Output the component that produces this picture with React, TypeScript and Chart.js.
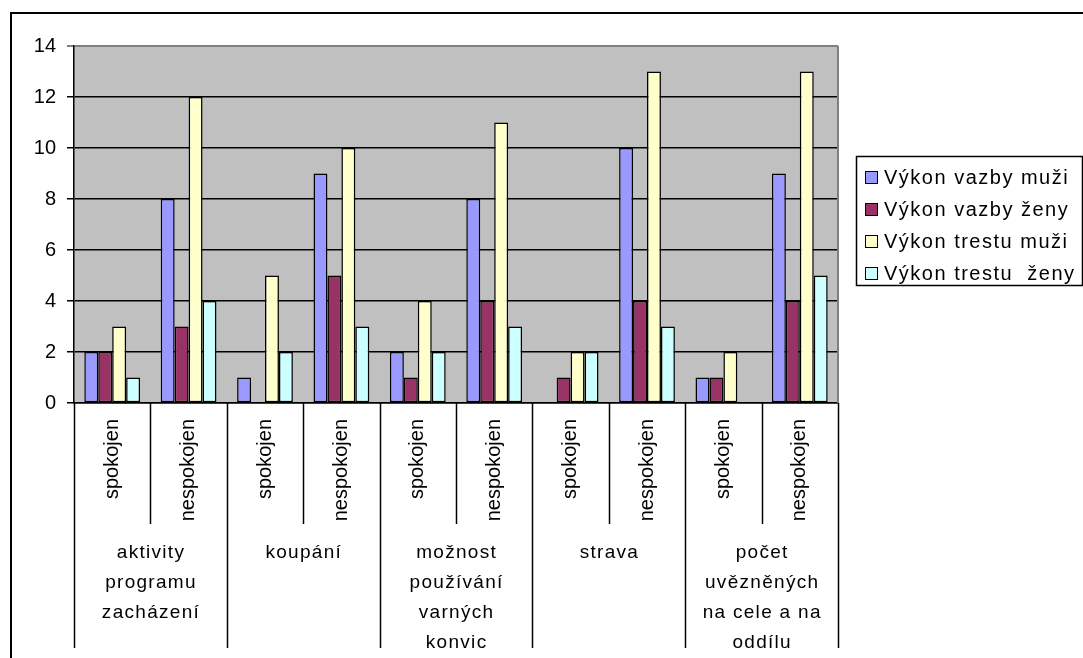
import React, { useEffect, useRef } from "react";
import { Chart, registerables } from "chart.js";

Chart.register(...registerables);

const categories = [
  "spokojen", "nespokojen",
  "spokojen", "nespokojen",
  "spokojen", "nespokojen",
  "spokojen", "nespokojen",
  "spokojen", "nespokojen",
];

const groupLabels: string[][] = [
  ["aktivity", "programu", "zacházení"],
  ["koupání"],
  ["možnost", "používání", "varných", "konvic"],
  ["strava"],
  ["počet", "uvězněných", "na cele a na", "oddílu"],
];

const seriesNames = ["Výkon vazby muži", "Výkon vazby ženy", "Výkon trestu muži", "Výkon trestu  ženy"];
const vazbaMuzi = [2, 8, 1, 9, 2, 8, 0, 10, 1, 9];
const vazbaZeny = [2, 3, 0, 5, 1, 4, 1, 4, 1, 4];
const trestMuzi = [3, 12, 5, 10, 4, 11, 2, 13, 2, 13];
const trestZeny = [1, 4, 2, 3, 2, 3, 2, 3, 0, 5];
const seriesColors = ["#9999FF", "#993366", "#FFFFCC", "#CCFFFF"];

const FONT = "'Liberation Sans', Arial, sans-serif";

const framePlugin = {
  id: "excelFrame",
  beforeDraw(chart: any) {
    const { ctx, chartArea } = chart;
    ctx.save();
    ctx.fillStyle = "#ffffff";
    ctx.fillRect(0, 0, chart.width, chart.height);
    ctx.fillStyle = "#C0C0C0";
    ctx.fillRect(chartArea.left, chartArea.top, chartArea.right - chartArea.left, chartArea.bottom - chartArea.top);
    ctx.strokeStyle = "#000";
    ctx.lineWidth = 2;
    ctx.strokeRect(11, 13, chart.width + 20, chart.height + 20);
    ctx.restore();
  },
  afterDraw(chart: any) {
    const { ctx, chartArea } = chart;
    const xs = chart.scales.x;
    ctx.save();
    // right border of plot area
    ctx.strokeStyle = "#808080";
    ctx.lineWidth = 2;
    ctx.beginPath();
    ctx.moveTo(chartArea.right, chartArea.top);
    ctx.lineTo(chartArea.right, chartArea.bottom);
    ctx.stroke();

    // category dividers
    const n = categories.length;
    ctx.strokeStyle = "#000";
    ctx.lineWidth = 1.5;
    for (let i = 0; i <= n; i++) {
      const x = i === 0 ? chartArea.left : i === n ? chartArea.right : (xs.getPixelForValue(i - 1) + xs.getPixelForValue(i)) / 2;
      const yEnd = i % 2 === 0 ? chartArea.bottom + 245 : chartArea.bottom + 121;
      ctx.beginPath();
      ctx.moveTo(Math.round(x) + 0.5, chartArea.bottom);
      ctx.lineTo(Math.round(x) + 0.5, yEnd);
      ctx.stroke();
    }

    // group labels
    ctx.fillStyle = "#000";
    ctx.font = `19px ${FONT}`;
    ctx.textAlign = "center";
    ctx.textBaseline = "middle";
    (ctx as any).letterSpacing = "1.3px";
    groupLabels.forEach((lines, g) => {
      const cx = (xs.getPixelForValue(2 * g) + xs.getPixelForValue(2 * g + 1)) / 2;
      lines.forEach((line, k) => {
        ctx.fillText(line, cx + 0.6, chartArea.bottom + 150 + k * 30);
      });
    });

    // legend
    const lx = 856, ly = 156, lw = 226, lh = 129;
    ctx.fillStyle = "#fff";
    ctx.fillRect(lx, ly, lw, lh);
    ctx.strokeStyle = "#000";
    ctx.lineWidth = 1.5;
    ctx.strokeRect(lx + 0.5, ly + 0.5, lw, lh);
    ctx.font = `20px ${FONT}`;
    ctx.textAlign = "left";
    ctx.textBaseline = "middle";
    (ctx as any).letterSpacing = "1.5px";
    chart.data.datasets.forEach((ds: any, i: number) => {
      const cy = ly + 21 + i * 32;
      ctx.fillStyle = ds.backgroundColor;
      ctx.fillRect(865, cy - 6, 12, 12);
      ctx.strokeStyle = "#000";
      ctx.lineWidth = 1;
      ctx.strokeRect(865.5, cy - 5.5, 12, 12);
      ctx.fillStyle = "#000";
      ctx.fillText(ds.label, 884, cy + 1);
    });
    (ctx as any).letterSpacing = "0px";
    ctx.restore();
  },
};

export default function App() {
  const ref = useRef<HTMLCanvasElement>(null);
  useEffect(() => {
    document.body.style.margin = "0";
    const datasets = [vazbaMuzi, vazbaZeny, trestMuzi, trestZeny].map((data, i) => ({
      label: seriesNames[i],
      data,
      backgroundColor: seriesColors[i],
      borderColor: "#000",
      borderWidth: 1.5,
      borderSkipped: false as any,
      categoryPercentage: 0.73,
      barPercentage: 1.0,
    }));
    const chart = new Chart(ref.current!, {
      type: "bar",
      data: { labels: categories, datasets },
      options: {
        animation: false,
        responsive: false,
        devicePixelRatio: 1,
        layout: { padding: { top: 46, right: 245, left: 0, bottom: 0 } },
        plugins: { legend: { display: false }, tooltip: { enabled: false } },
        scales: {
          x: {
            grid: { display: false },
            border: { display: true, color: "#000", width: 1.5 },
            ticks: {
              autoSkip: false,
              minRotation: 90,
              maxRotation: 90,
              padding: 8,
              color: "#000",
              font: { family: FONT, size: 20 },
            },
            afterFit(scale: any) {
              scale.height = 255;
            },
          },
          y: {
            min: 0,
            max: 14,
            ticks: {
              stepSize: 2,
              padding: 11,
              color: "#000",
              font: { family: FONT, size: 20 },
            },
            grid: {
              color: (c: any) => (c.tick && c.tick.value === 14 ? "#808080" : "#000"),
              lineWidth: (c: any) => (c.tick && c.tick.value === 14 ? 2 : 1.5),
              tickLength: 7,
              drawTicks: true,
            },
            border: { display: true, color: "#000", width: 1.5 },
            afterFit(scale: any) {
              scale.width = 74;
            },
          },
        },
      },
      plugins: [framePlugin],
    });
    return () => chart.destroy();
  }, []);
  return (
    <div style={{ width: 1083, height: 658 }}>
      <canvas ref={ref} width={1083} height={658} style={{ display: "block" }} />
    </div>
  );
}
